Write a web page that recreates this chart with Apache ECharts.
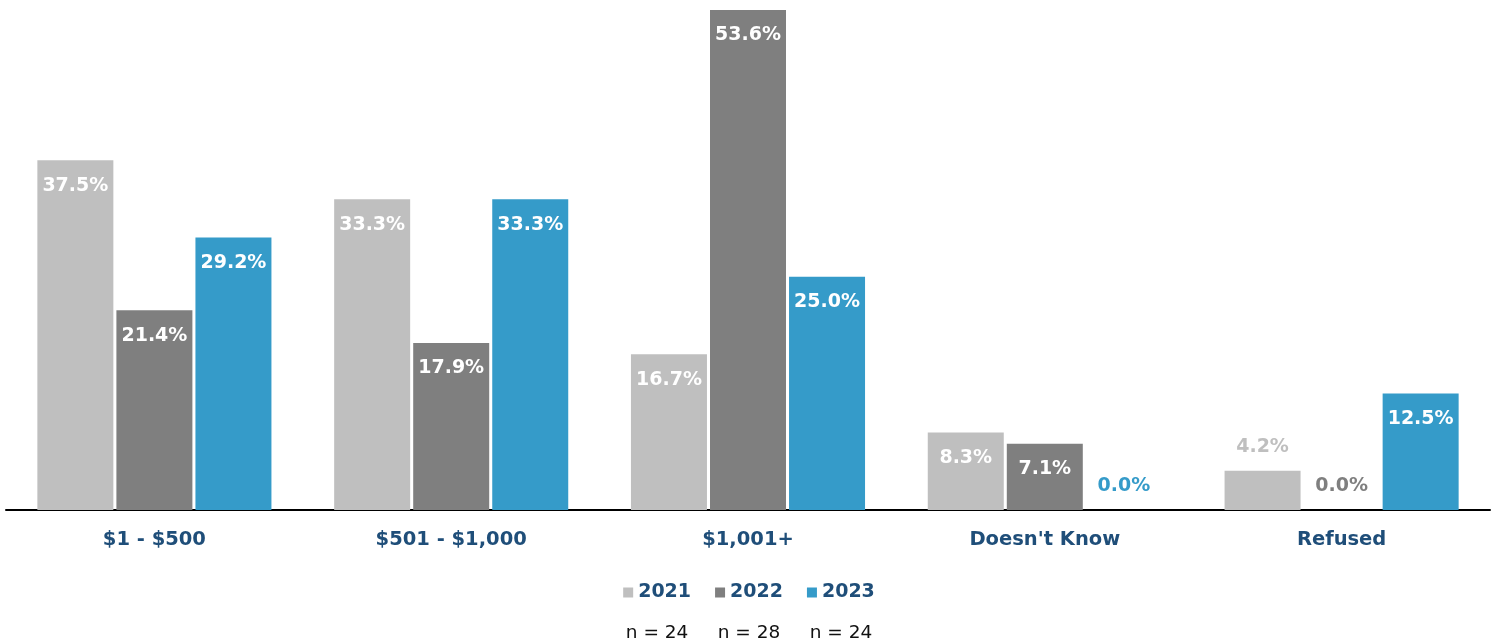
<!DOCTYPE html>
<html>
<head>
<meta charset="utf-8">
<script src="https://cdn.jsdelivr.net/npm/echarts@6/dist/echarts.min.js"></script>
<style>
  html, body { margin: 0; padding: 0; background: #fff; }
  #chart { width: 1498px; height: 643px; }
</style>
</head>
<body>
<div id="chart"></div>
<script>
const categories = ['$1 - $500', '$501 - $1,000', '$1,001+', "Doesn't Know", 'Refused'];
const years = ['2021', '2022', '2023'];
const values2021 = [37.5, 33.3, 16.7, 8.3, 4.2];
const values2022 = [21.4, 17.9, 53.6, 7.1, 0.0];
const values2023 = [29.2, 33.3, 25.0, 0.0, 12.5];
const sampleSizes = [24, 28, 24];

const colors = ['#bfbfbf', '#7f7f7f', '#359bc9'];
const navy = '#1f4e79';
const font = '"DejaVu Sans", sans-serif';

// small bars get their label above the bar, in the bar colour
function makeData(values, color) {
  return values.map(v => {
    if (v < 5) {
      return {
        value: v,
        label: { position: 'top', color: color, distance: 14 }
      };
    }
    return v;
  });
}

const chart = echarts.init(document.getElementById('chart'));

const seriesList = [values2021, values2022, values2023].map((vals, i) => ({
  name: years[i],
  type: 'bar',
  data: makeData(vals, colors[i]),
  itemStyle: { color: colors[i] },
  barWidth: 76,
  barGap: '4%',
  label: {
    show: true,
    position: 'insideTop',
    distance: 16,
    color: '#fff',
    fontFamily: font,
    fontWeight: 'bold',
    fontSize: 19,
    formatter: p => p.value.toFixed(1) + '%'
  }
}));

chart.setOption({
  animation: false,
  grid: { left: 6, right: 8, top: 10, bottom: 133, containLabel: false },
  xAxis: {
    type: 'category',
    data: categories,
    axisLine: { lineStyle: { color: '#000', width: 2 } },
    axisTick: { show: false },
    axisLabel: {
      color: navy,
      fontFamily: font,
      fontWeight: 'bold',
      fontSize: 19.5,
      margin: 20
    }
  },
  yAxis: {
    type: 'value',
    min: 0,
    max: 53.6,
    show: false,
    splitLine: { show: false }
  },
  legend: {
    data: years,
    bottom: 36,
    left: 'center',
    icon: 'rect',
    itemWidth: 10,
    itemHeight: 10,
    itemGap: 24,
    textStyle: {
      color: navy,
      fontFamily: font,
      fontWeight: 'bold',
      fontSize: 19
    }
  },
  title: {
    text: sampleSizes.map(n => 'n = ' + n).join('     '),
    left: 'center',
    bottom: -5,
    textStyle: {
      color: '#111',
      fontFamily: font,
      fontWeight: 'normal',
      fontSize: 18.5
    }
  },
  series: seriesList
});
</script>
</body>
</html>
